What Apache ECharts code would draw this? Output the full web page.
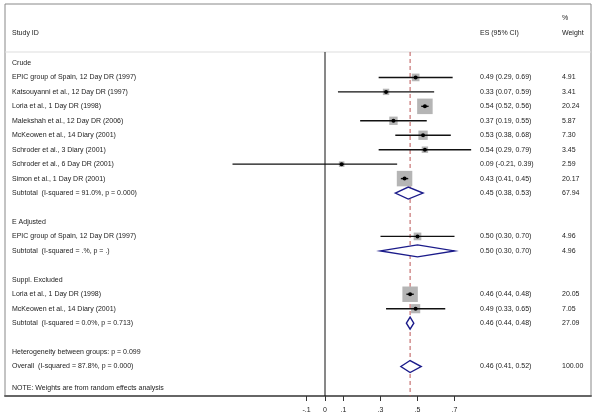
<!DOCTYPE html>
<html><head><meta charset="utf-8">
<script src="https://cdn.jsdelivr.net/npm/echarts@6/dist/echarts.min.js"></script>
<style>html,body{margin:0;padding:0;background:#fff}#c{width:600px;height:417px}</style>
</head><body><div id="c"></div>
<script>
// ---- data ----
const groupLabels = ["Crude", "E Adjusted", "Suppl. Excluded"];
const groupRows = [0, 11, 15];

const studyLabels = [
  "EPIC group of Spain, 12 Day DR (1997)",
  "Katsouyanni et al., 12 Day DR (1997)",
  "Loria et al., 1 Day DR (1998)",
  "Malekshah et al., 12 Day DR (2006)",
  "McKeowen et al., 14 Diary (2001)",
  "Schroder et al., 3 Diary (2001)",
  "Schroder et al., 6 Day DR (2001)",
  "Simon et al., 1 Day DR (2001)",
  "EPIC group of Spain, 12 Day DR (1997)",
  "Loria et al., 1 Day DR (1998)",
  "McKeowen et al., 14 Diary (2001)"
];
const studyRows = [1, 2, 3, 4, 5, 6, 7, 8, 12, 16, 17];
const studyES = [0.49, 0.33, 0.54, 0.37, 0.53, 0.54, 0.09, 0.43, 0.50, 0.46, 0.49];
const studyLo = [0.29, 0.07, 0.52, 0.19, 0.38, 0.29, -0.50, 0.41, 0.30, 0.44, 0.33];
const studyHi = [0.69, 0.59, 0.56, 0.55, 0.68, 0.79, 0.39, 0.45, 0.70, 0.48, 0.65];
const studyWeight = [4.91, 3.41, 20.24, 5.87, 7.30, 3.45, 2.59, 20.17, 4.96, 20.05, 7.05];
const studyESText = [
  "0.49 (0.29, 0.69)", "0.33 (0.07, 0.59)", "0.54 (0.52, 0.56)", "0.37 (0.19, 0.55)",
  "0.53 (0.38, 0.68)", "0.54 (0.29, 0.79)", "0.09 (-0.21, 0.39)", "0.43 (0.41, 0.45)",
  "0.50 (0.30, 0.70)", "0.46 (0.44, 0.48)", "0.49 (0.33, 0.65)"
];
const studyWeightText = ["4.91", "3.41", "20.24", "5.87", "7.30", "3.45", "2.59", "20.17", "4.96", "20.05", "7.05"];

const pooledLabels = [
  "Subtotal  (I-squared = 91.0%, p = 0.000)",
  "Subtotal  (I-squared = .%, p = .)",
  "Subtotal  (I-squared = 0.0%, p = 0.713)",
  "Overall  (I-squared = 87.8%, p = 0.000)"
];
const pooledRows = [9, 13, 18, 21];
const pooledES = [0.45, 0.50, 0.46, 0.46];
const pooledLo = [0.38, 0.30, 0.44, 0.41];
const pooledHi = [0.53, 0.70, 0.48, 0.52];
const pooledESText = ["0.45 (0.38, 0.53)", "0.50 (0.30, 0.70)", "0.46 (0.44, 0.48)", "0.46 (0.41, 0.52)"];
const pooledWeightText = ["67.94", "4.96", "27.09", "100.00"];

const noteLabels = ["Heterogeneity between groups: p = 0.099", "NOTE: Weights are from random effects analysis"];
const noteRows = [20, 22.5];

const overallES = 0.46;
const tickValues = [-0.1, 0, 0.1, 0.3, 0.5, 0.7];
const tickLabels = ["-.1", "0", ".1", ".3", ".5", ".7"];

// ---- layout ----
const Y_MIN = -4.08, Y_MAX = 23.04;
const HEADER_ROW = -2.08, PCT_ROW = -3.08, SEP_ROW = -0.76;
const FONT = '7px "Liberation Sans", Arial, sans-serif';
const TXT = '#222';
const COL_LABEL = 7, COL_ES = 475, COL_WT = 557; // pixel offsets from grid left

function textEl(x, y, text, align) {
  return { type: 'text', x: x, y: y, style: { text: text, fill: TXT, font: FONT, align: align || 'left', verticalAlign: 'middle' } };
}

const textData = [];
groupRows.forEach((r, i) => textData.push([r, groupLabels[i], '', '']));
studyRows.forEach((r, i) => textData.push([r, studyLabels[i], studyESText[i], studyWeightText[i]]));
pooledRows.forEach((r, i) => textData.push([r, pooledLabels[i], pooledESText[i], pooledWeightText[i]]));
noteRows.forEach((r, i) => textData.push([r, noteLabels[i], '', '']));
textData.push([HEADER_ROW, 'Study ID', 'ES (95% CI)', 'Weight']);
textData.push([PCT_ROW, '', '', '%']);

const chart = echarts.init(document.getElementById('c'), null, { renderer: 'canvas' });
chart.setOption({
  animation: false,
  grid: { left: 5, right: 9, top: 4, bottom: 21, show: true, borderColor: '#888', borderWidth: 1 },
  xAxis: {
    type: 'value', min: (5 - 325) / 185, max: (591 - 325) / 185,
    axisLine: { show: true, onZero: false, lineStyle: { color: '#666', width: 2 } },
    axisTick: { show: true, customValues: tickValues, length: 5, lineStyle: { color: '#333', width: 1 } },
    axisLabel: { show: true, customValues: tickValues, margin: 11, fontSize: 7, color: '#222',
      fontFamily: 'Liberation Sans',
      formatter: v => { const k = tickValues.findIndex(t => Math.abs(t - v) < 1e-9); return k >= 0 ? tickLabels[k] : ''; } },
    splitLine: { show: false }
  },
  yAxis: { type: 'value', inverse: true, min: Y_MIN, max: Y_MAX, show: false },
  series: [
    { // reference lines and header separator
      type: 'custom', data: [[0]],
      renderItem: (params, api) => {
        const cs = params.coordSys;
        const ySep = api.coord([0, SEP_ROW])[1];
        const yBot = api.coord([0, Y_MAX])[1];
        const x0 = api.coord([0, 0])[0];
        const xo = api.coord([overallES, 0])[0];
        return { type: 'group', children: [
          { type: 'line', shape: { x1: cs.x, y1: ySep, x2: cs.x + cs.width, y2: ySep }, style: { stroke: '#ddd', lineWidth: 1.2 } },
          { type: 'line', shape: { x1: x0, y1: ySep, x2: x0, y2: yBot }, style: { stroke: '#111', lineWidth: 1 } },
          { type: 'line', shape: { x1: xo, y1: ySep, x2: xo, y2: yBot }, style: { stroke: '#b55', lineWidth: 1, lineDash: [4, 3] } }
        ] };
      }
    },
    { // study boxes, CIs and points
      type: 'custom',
      data: studyRows.map((r, i) => [studyES[i], r, studyLo[i], studyHi[i], studyWeight[i]]),
      renderItem: (params, api) => {
        const es = api.value(0), r = api.value(1), lo = api.value(2), hi = api.value(3), w = api.value(4);
        const c = api.coord([es, r]);
        const pl = api.coord([lo, r]), ph = api.coord([hi, r]);
        const s = 3.45 * Math.sqrt(w);
        return { type: 'group', children: [
          { type: 'rect', shape: { x: c[0] - s / 2, y: c[1] - s / 2, width: s, height: s }, style: { fill: '#b5b5b5' } },
          { type: 'line', shape: { x1: pl[0], y1: c[1], x2: ph[0], y2: c[1] }, style: { stroke: '#111', lineWidth: 1.4 } },
          { type: 'circle', shape: { cx: c[0], cy: c[1], r: 2 }, style: { fill: '#000' } }
        ] };
      }
    },
    { // pooled diamonds
      type: 'custom',
      data: pooledRows.map((r, i) => [pooledES[i], r, pooledLo[i], pooledHi[i]]),
      renderItem: (params, api) => {
        const es = api.value(0), r = api.value(1);
        const c = api.coord([es, r]);
        const pl = api.coord([api.value(2), r]), ph = api.coord([api.value(3), r]);
        const h = 6;
        return { type: 'polygon', shape: { points: [[pl[0], c[1]], [c[0], c[1] - h], [ph[0], c[1]], [c[0], c[1] + h]] },
          style: { fill: '#fff', stroke: '#1b1b8a', lineWidth: 1.4 } };
      }
    },
    { // text columns
      type: 'custom', data: textData.map(d => [0, d[0]]),
      renderItem: (params, api) => {
        const d = textData[params.dataIndex];
        const cs = params.coordSys;
        const y = api.coord([0, d[0]])[1];
        const kids = [];
        if (d[1]) kids.push(textEl(cs.x + COL_LABEL, y, d[1]));
        if (d[2]) kids.push(textEl(cs.x + COL_ES, y, d[2]));
        if (d[3]) kids.push(textEl(cs.x + COL_WT, y, d[3]));
        return { type: 'group', children: kids };
      }
    }
  ]
});
</script></body></html>
